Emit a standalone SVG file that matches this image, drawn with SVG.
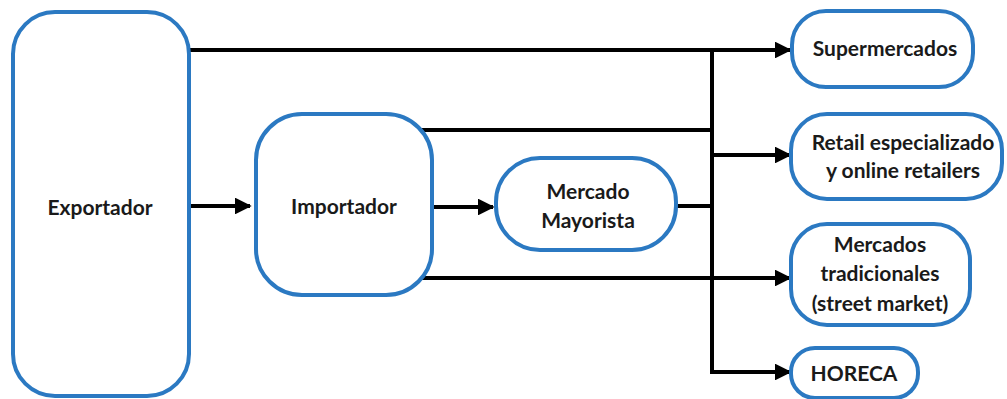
<svg xmlns="http://www.w3.org/2000/svg" width="1007" height="399" viewBox="0 0 1007 399">
<style>
.box{fill:#fff;stroke:#2b79c2;stroke-width:4}
.t{font-family:"Lato","Open Sans",sans-serif;font-weight:bold;font-size:21px;fill:#1a1a1a;text-anchor:middle;dominant-baseline:central}
.c{fill:none;stroke:#000;stroke-width:4}
</style>
<defs>
<marker id="ah" viewBox="0 0 10 10" refX="9" refY="5" markerWidth="4.2" markerHeight="4.2" orient="auto" markerUnits="strokeWidth">
<path d="M0,0 L10,5 L0,10 Z" fill="#000"/>
</marker>
</defs>
<rect width="1007" height="399" fill="#fff"/>
<g id="connectors">
<path class="c" d="M190,50 H790" marker-end="url(#ah)"/>
<path class="c" d="M190,206 H250" marker-end="url(#ah)"/>
<path class="c" d="M432,207 H493" marker-end="url(#ah)"/>
<path class="c" d="M418,130 H712"/>
<path class="c" d="M675,206 H712"/>
<path class="c" d="M418,278 H790" marker-end="url(#ah)"/>
<path class="c" d="M712,48 V372 H790" marker-end="url(#ah)"/>
<path class="c" d="M712,155 H790" marker-end="url(#ah)"/>
</g>
<g id="exportador"><rect class="box" x="13" y="12" width="176" height="384" rx="42"/><text class="t" x="100" y="206">Exportador</text></g>
<g id="importador"><rect class="box" x="256" y="114" width="176" height="181" rx="46"/><text class="t" x="344" y="205">Importador</text></g>
<g id="mayorista"><rect class="box" x="496" y="158" width="180" height="92" rx="44"/><text class="t" x="588" y="190">Mercado</text><text class="t" x="588" y="219">Mayorista</text></g>
<g id="supermercados"><rect class="box" x="792" y="11" width="181" height="76" rx="34"/><text class="t" x="885" y="47">Supermercados</text></g>
<g id="retail"><rect class="box" x="791" y="114" width="211" height="85" rx="36"/><text class="t" x="903" y="141">Retail especializado</text><text class="t" x="903" y="169">y online retailers</text></g>
<g id="tradicionales"><rect class="box" x="791" y="224" width="179" height="101" rx="36"/><text class="t" x="880" y="243">Mercados</text><text class="t" x="880" y="272">tradicionales</text><text class="t" x="880" y="302">(street market)</text></g>
<g id="horeca"><rect class="box" x="791" y="348" width="127" height="50" rx="24"/><text class="t" x="854" y="372">HORECA</text></g>
</svg>
